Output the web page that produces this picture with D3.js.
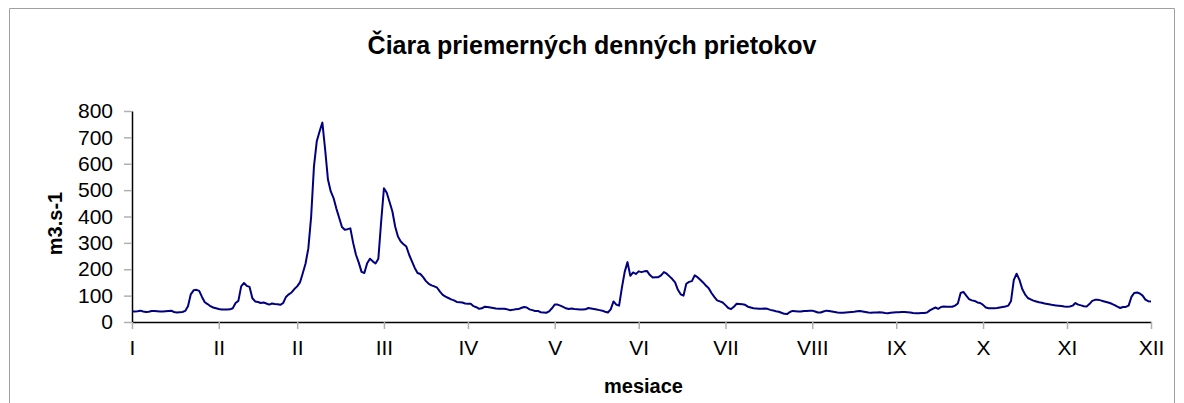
<!DOCTYPE html>
<html>
<head>
<meta charset="utf-8">
<script src="https://cdn.jsdelivr.net/npm/d3@7"></script>
<style>
  html, body { margin: 0; padding: 0; background: #fff; }
  svg { display: block; }
</style>
</head>
<body>
<svg id="chart" width="1184" height="403"></svg>
<script>
// ---- data ----
const chartTitle = "Čiara priemerných denných prietokov";
const yTitle = "m3.s-1";
const xTitle = "mesiace";
const monthTickDays = [0, 31, 59, 90, 120, 151, 181, 212, 243, 273, 304, 334, 364];
const monthLabels = ["I", "II", "II", "III", "IV", "V", "VI", "VII", "VIII", "IX", "X", "XI", "XII"];
const yTicks = [0, 100, 200, 300, 400, 500, 600, 700, 800];

// daily mean discharge, m3/s (day 0 .. 364)
const janFeb = [
  40, 40, 41, 43, 40, 38, 39, 42, 42, 41, 40, 40, 41, 42, 43, 38, 36, 37, 38, 42,
  60, 105, 120, 122, 118, 95, 75, 68, 60, 55, 52,
  49, 47, 47, 47, 48, 52, 72, 80, 135, 148, 137, 133, 90, 78, 76, 72, 74, 70, 66,
  70, 68, 67, 65, 72, 95, 105, 112, 125
];
const marApr = [
  135, 150, 185, 222, 280, 400, 590, 685, 722, 756, 653, 540, 495, 470, 430, 395,
  360, 350, 352, 355, 300, 255, 225, 190, 186, 223, 240, 230, 222, 240, 380,
  507, 490, 455, 420, 362, 324, 305, 295, 286, 255, 230, 205, 186, 182, 170, 155,
  145, 139, 135, 130, 115, 103, 96, 91, 86, 82, 76, 75, 74, 70
];
const mayJun = [
  69, 69, 60, 56, 50, 52, 58, 57, 55, 53, 51, 50, 50, 50, 48, 45, 46, 48, 49, 53,
  57, 55, 48, 45, 42, 42, 37, 36, 35, 40, 52,
  66, 66, 62, 57, 52, 49, 51, 49, 48, 47, 47, 48, 53, 51, 49, 47, 45, 43, 39, 36,
  48, 78, 66, 62, 130, 190, 227, 175, 188, 182
];
const julAug = [
  192, 189, 192, 193, 178, 169, 170, 170, 177, 189, 183, 173, 163, 150, 122, 105,
  100, 145, 152, 155, 177, 170, 160, 150, 138, 128, 110, 95, 82, 78, 74,
  64, 53, 49, 58, 69, 68, 67, 65, 58, 55, 52, 51, 50, 50, 51, 50, 46, 44, 41, 39,
  35, 31, 30, 38, 42, 41, 40, 40, 42, 42
];
const sepOct = [
  43, 43, 40, 36, 36, 40, 43, 42, 40, 38, 36, 35, 35, 36, 37, 38, 39, 41, 42, 40,
  38, 36, 35, 36, 36, 37, 36, 34, 33, 35,
  36, 37, 37, 38, 38, 37, 36, 34, 33, 33, 34, 34, 36, 44, 50, 55, 50, 57, 59, 58,
  58, 58, 62, 70, 110, 114, 100, 87, 82, 80, 74
];
const novDec = [
  72, 65, 55, 52, 52, 52, 53, 55, 57, 59, 62, 80, 160, 183, 160, 125, 105, 91, 86,
  81, 78, 75, 73, 70, 68, 66, 64, 63, 62, 61,
  59, 58, 59, 62, 72, 66, 63, 60, 59, 68, 80, 84, 84, 82, 79, 76, 73, 69, 64, 58,
  53, 57, 57, 62, 95, 110, 112, 108, 100, 85, 79, 78
];
const dailyFlow = [].concat(janFeb, marApr, mayJun, julAug, sepOct, novDec);

// ---- drawing ----
const svg = d3.select("#chart");
const W = 1184, H = 403;
const plot = { left: 132, right: 1151, top: 111, bottom: 322 };
const FONT = "Liberation Sans, Arial, sans-serif";

// outer frame
svg.append("path")
  .attr("d", `M9.5,${H} L9.5,8.5 L1174.5,8.5 L1174.5,${H}`)
  .attr("fill", "none").attr("stroke", "#a0a0a0").attr("stroke-width", 1);

const x = d3.scaleLinear().domain([0, dailyFlow.length - 1]).range([plot.left, plot.right]);
const y = d3.scaleLinear().domain([0, 800]).range([plot.bottom, plot.top]);

// title
svg.append("text")
  .attr("x", 592).attr("y", 54)
  .attr("text-anchor", "middle")
  .attr("font-family", FONT)
  .attr("font-weight", "bold").attr("font-size", 25)
  .attr("fill", "#000")
  .text(chartTitle);

// y axis
const yAxis = d3.axisLeft(y).tickValues(yTicks).tickSize(8).tickPadding(11).tickSizeOuter(0);
const gy = svg.append("g").attr("transform", `translate(${plot.left},0)`).call(yAxis);
gy.select(".domain").attr("stroke", "#000").attr("stroke-width", 1.5);
gy.selectAll(".tick line").attr("stroke", "#b0b0b0").attr("stroke-width", 1.5);
gy.selectAll(".tick text")
  .attr("font-family", FONT)
  .attr("font-size", 21).attr("fill", "#000");

// x axis
const xAxis = d3.axisBottom(x).tickValues(monthTickDays)
  .tickFormat((d, i) => monthLabels[i]).tickSize(7).tickPadding(11).tickSizeOuter(0);
const gx = svg.append("g").attr("transform", `translate(0,${plot.bottom})`).call(xAxis);
gx.select(".domain").attr("stroke", "#000").attr("stroke-width", 1.5);
gx.selectAll(".tick line").attr("stroke", "#b0b0b0").attr("stroke-width", 1.5);
gx.selectAll(".tick text")
  .attr("font-family", FONT)
  .attr("font-size", 21).attr("fill", "#000");

// axis titles
svg.append("text")
  .attr("transform", `translate(62,${(plot.top + plot.bottom) / 2 + 7}) rotate(-90)`)
  .attr("text-anchor", "middle")
  .attr("font-family", FONT)
  .attr("font-weight", "bold").attr("font-size", 20)
  .attr("fill", "#000")
  .text(yTitle);

svg.append("text")
  .attr("x", (plot.left + plot.right) / 2 + 2).attr("y", 393)
  .attr("text-anchor", "middle")
  .attr("font-family", FONT)
  .attr("font-weight", "bold").attr("font-size", 20)
  .attr("fill", "#000")
  .text(xTitle);

// line
const line = d3.line().x((d, i) => x(i)).y(d => y(d));
svg.append("path")
  .datum(dailyFlow)
  .attr("fill", "none")
  .attr("stroke", "#000080")
  .attr("stroke-width", 2)
  .attr("stroke-linejoin", "round")
  .attr("d", line);
</script>
</body>
</html>
